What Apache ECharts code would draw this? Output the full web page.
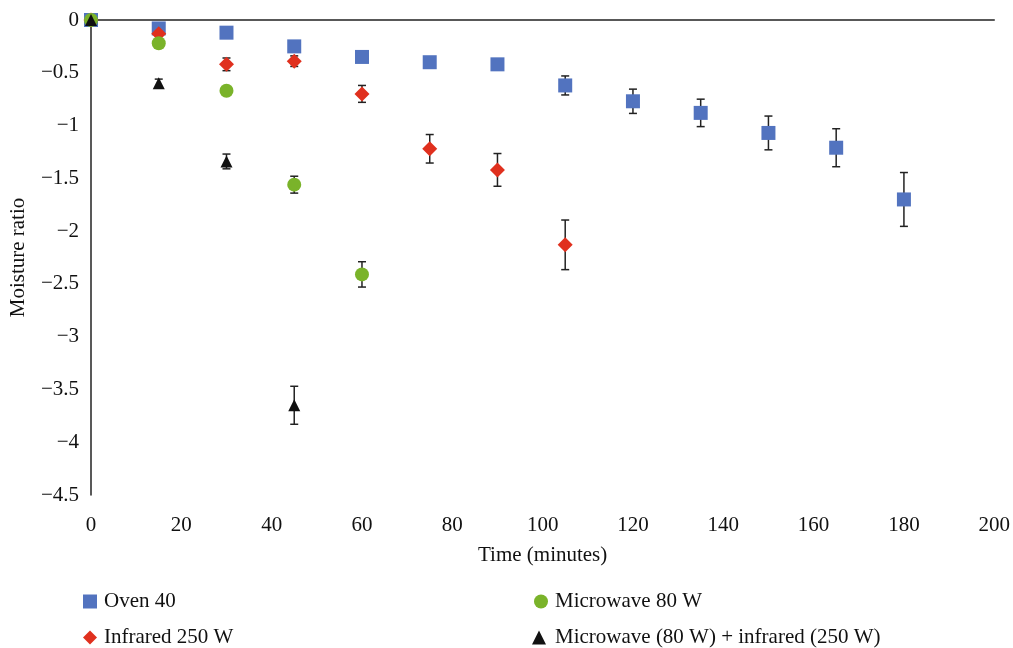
<!DOCTYPE html>
<html>
<head>
<meta charset="UTF-8">
<title>Moisture ratio</title>
<script src="https://cdn.jsdelivr.net/npm/echarts@6/dist/echarts.min.js"></script>
<style>
  html, body { margin: 0; padding: 0; background: #fff; }
  #chart { width: 1013px; height: 648px; }
</style>
</head>
<body>
<div id="chart"></div>
<script type="text/javascript">

  // minutes and moisture ratio (mean, error) per drying method
  var ovenTime = [0, 15, 30, 45, 60, 75, 90, 105, 120, 135, 150, 165, 180];
  var ovenVal  = [0, -0.08, -0.12, -0.25, -0.35, -0.40, -0.42, -0.62, -0.77, -0.88, -1.07, -1.21, -1.70];
  var ovenErr  = [0, 0.01, 0.01, 0.01, 0.01, 0.05, 0.05, 0.09, 0.115, 0.13, 0.16, 0.18, 0.255];

  var irTime = [0, 15, 30, 45, 60, 75, 90, 105];
  var irVal  = [0, -0.13, -0.42, -0.39, -0.70, -1.22, -1.42, -2.13];
  var irErr  = [0, 0.02, 0.06, 0.05, 0.08, 0.135, 0.155, 0.235];

  var mwTime = [0, 15, 30, 45, 60];
  var mwVal  = [0, -0.22, -0.67, -1.56, -2.41];
  var mwErr  = [0, 0.01, 0.01, 0.08, 0.12];

  var mixTime = [0, 15, 30, 45];
  var mixVal  = [0, -0.60, -1.34, -3.65];
  var mixErr  = [0, 0.04, 0.07, 0.18];

  var fnt = 'Liberation Serif';
  var fs = 21;
  var myChart = echarts.init(document.getElementById('chart'));

  function pts(t, v) {
    var out = [];
    for (var i = 0; i < t.length; i++) out.push([t[i], v[i]]);
    return out;
  }
  function errPts(t, v, e) {
    var out = [];
    for (var i = 0; i < t.length; i++) out.push([t[i], v[i], e[i]]);
    return out;
  }
  function minus(v) {
    return String(v).replace('-', '\u2212');
  }

  function errorBar(params, api) {
    var x = api.value(0), y = api.value(1), e = api.value(2);
    if (!e) return null;
    var hi = api.coord([x, y + e]);
    var lo = api.coord([x, y - e]);
    var w = 4;
    var st = { stroke: '#222', lineWidth: 1.5 };
    return {
      type: 'group',
      children: [
        { type: 'line', shape: { x1: hi[0], y1: hi[1], x2: lo[0], y2: lo[1] }, style: st },
        { type: 'line', shape: { x1: hi[0] - w, y1: hi[1], x2: hi[0] + w, y2: hi[1] }, style: st },
        { type: 'line', shape: { x1: lo[0] - w, y1: lo[1], x2: lo[0] + w, y2: lo[1] }, style: st }
      ]
    };
  }

  function bars(t, v, e) {
    return {
      type: 'custom',
      renderItem: errorBar,
      data: errPts(t, v, e),
      clip: false,
      z: 1,
      silent: true,
      encode: { x: 0, y: 1 }
    };
  }

  function leg(name, left, top, pad) {
    return {
      left: left, top: top, padding: 0,
      itemWidth: 14, itemHeight: 14,
      textStyle: { fontFamily: fnt, fontSize: fs, color: '#111', padding: [0, 0, 0, pad] },
      data: [name]
    };
  }

  var option = {
    animation: false,
    textStyle: { fontFamily: fnt },
    grid: { left: 90, right: 18, top: 20, bottom: 153 },
    legend: [
      leg('Oven 40', 83, 591, 2),
      leg('Infrared 250 W', 83, 627, 2),
      leg('Microwave 80 W', 534, 591, 2),
      leg('Microwave (80 W) + infrared (250 W)', 532, 627, 4)
    ],
    xAxis: [
      {
        type: 'value', min: 0, max: 200, interval: 20, position: 'bottom',
        axisLine: { show: false }, axisTick: { show: false }, splitLine: { show: false },
        axisLabel: { fontFamily: fnt, fontSize: fs, color: '#111', margin: 20 },
        name: 'Time (minutes)', nameLocation: 'middle', nameGap: 50,
        nameTextStyle: { fontFamily: fnt, fontSize: fs, color: '#111' }
      },
      {
        type: 'value', min: 0, max: 200, position: 'top',
        axisLine: { show: true, onZero: false, lineStyle: { color: '#222', width: 1.5 } },
        axisTick: { show: false }, axisLabel: { show: false }, splitLine: { show: false }
      }
    ],
    yAxis: {
      type: 'value', min: -4.5, max: 0, interval: 0.5,
      axisLine: { show: true, onZero: false, lineStyle: { color: '#222', width: 1.5 } },
      axisTick: { show: false }, splitLine: { show: false },
      axisLabel: { fontFamily: fnt, fontSize: fs, color: '#111', margin: 12, formatter: minus },
      name: 'Moisture ratio', nameLocation: 'middle', nameGap: 62,
      nameTextStyle: { fontFamily: fnt, fontSize: fs, color: '#111' }
    },
    series: [
      bars(ovenTime, ovenVal, ovenErr),
      bars(irTime, irVal, irErr),
      bars(mwTime, mwVal, mwErr),
      bars(mixTime, mixVal, mixErr),
      {
        name: 'Oven 40', type: 'scatter', symbol: 'rect', symbolSize: 14,
        itemStyle: { color: '#5273bf', opacity: 1 }, clip: false, z: 3,
        data: pts(ovenTime, ovenVal)
      },
      {
        name: 'Infrared 250 W', type: 'scatter', symbol: 'diamond', symbolSize: [15, 15],
        itemStyle: { color: '#e0301e', opacity: 1 }, clip: false, z: 3,
        data: pts(irTime, irVal)
      },
      {
        name: 'Microwave 80 W', type: 'scatter', symbol: 'circle', symbolSize: 14,
        itemStyle: { color: '#7ab32a', opacity: 1 }, clip: false, z: 3,
        data: pts(mwTime, mwVal)
      },
      {
        name: 'Microwave (80 W) + infrared (250 W)', type: 'scatter', symbol: 'triangle', symbolSize: 12,
        itemStyle: { color: '#111', opacity: 1 }, clip: false, z: 3,
        data: pts(mixTime, mixVal)
      }
    ]
  };

  myChart.setOption(option);

</script>
</body>
</html>
